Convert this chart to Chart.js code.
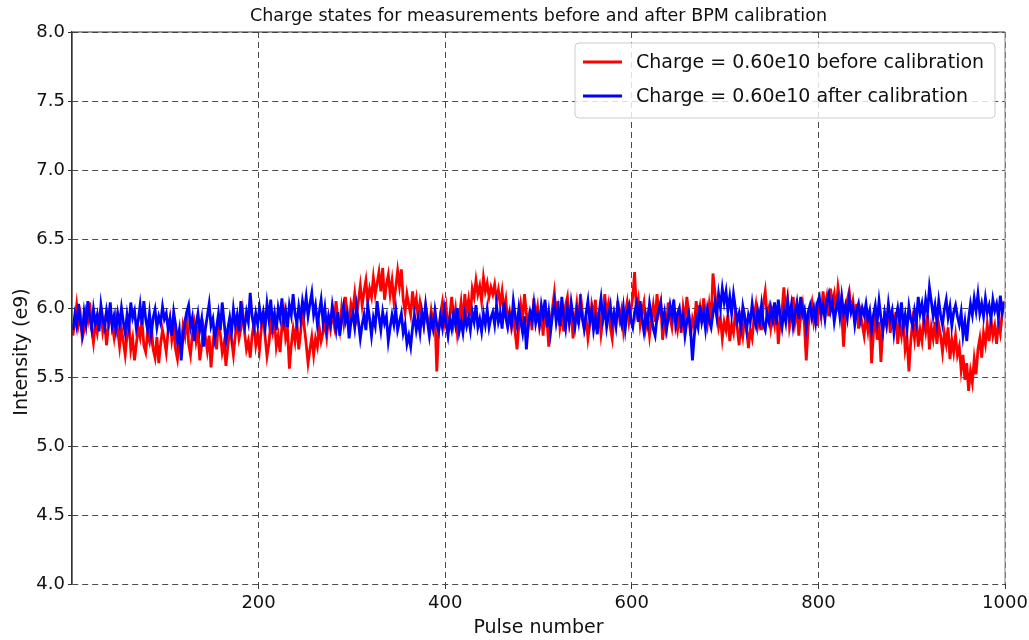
<!DOCTYPE html>
<html>
<head>
<meta charset="utf-8">
<title>Charge states before and after BPM calibration</title>
<script src="https://cdn.jsdelivr.net/npm/chart.js@4.4.1/dist/chart.umd.min.js"></script>
<style>
  html, body { margin: 0; padding: 0; background: #ffffff; }
  #wrap { width: 1029px; height: 640px; }
</style>
</head>
<body>
<div id="wrap"><canvas id="chart" width="1029" height="640"></canvas></div>
<script>
// Chart text
const chartTitle = 'Charge states for measurements before and after BPM calibration';
const xAxisTitle = 'Pulse number';
const yAxisTitle = 'Intensity (e9)';
const seriesLabels = ['Charge = 0.60e10 before calibration', 'Charge = 0.60e10 after calibration'];

// Axis ticks
const xTicks = [200, 400, 600, 800, 1000];
const yTicks = [4.0, 4.5, 5.0, 5.5, 6.0, 6.5, 7.0, 7.5, 8.0];

// Measured intensity (e9), one value every second pulse (1, 3, 5, ... 999)
const intensityBefore = [
  5.80, 5.90, 6.02, 5.88, 5.95, 5.78, 5.84, 5.97, 5.91, 6.04, 5.86, 5.75, 5.89, 5.82, 5.94, 5.99, 5.83, 5.90, 5.73, 5.86, 5.96, 5.88, 5.79, 5.93, 5.84,
  5.72, 5.85, 5.76, 5.66, 5.80, 5.89, 5.70, 5.78, 5.62, 5.74, 5.86, 5.79, 5.91, 5.73, 5.68, 5.82, 5.76, 5.88, 5.70, 5.64, 5.79, 5.60, 5.74, 5.84, 5.77,
  5.68, 5.83, 5.92, 5.77, 5.86, 5.70, 5.63, 5.78, 5.72, 5.87, 5.80, 5.95, 5.74, 5.66, 5.81, 5.89, 5.76, 5.84, 5.62, 5.73, 5.86, 5.79, 5.69, 5.80, 5.57,
  5.74, 5.86, 5.70, 5.92, 5.81, 5.68, 5.75, 5.58, 5.72, 5.84, 5.77, 5.66, 5.80, 5.90, 5.78, 5.85, 5.97, 5.82, 5.70, 5.76, 5.64, 5.80, 5.89, 5.73, 5.81,
  5.70, 5.86, 5.94, 5.79, 5.65, 5.74, 5.88, 5.82, 5.91, 5.72, 5.80, 5.68, 5.87, 5.96, 5.78, 5.84, 5.56, 5.73, 5.85, 5.76, 5.90, 5.70, 5.82, 6.00, 5.86,
  5.74, 5.60, 5.70, 5.79, 5.66, 5.78, 5.72, 5.86, 5.76, 5.82, 5.90, 5.79, 5.93, 5.85, 5.97, 5.88, 6.05, 5.92, 5.84, 6.00, 5.90, 6.08, 5.95, 5.87, 6.03,
  5.98, 6.10, 5.95, 6.05, 6.16, 6.02, 6.12, 6.20, 6.04, 6.14, 6.08, 6.22, 6.10, 6.18, 6.26, 6.12, 6.29, 6.06, 6.17, 6.24, 6.10, 6.20, 6.05, 6.15, 6.27,
  6.16, 6.28, 6.06, 5.97, 6.10, 6.02, 5.95, 6.12, 6.00, 6.07, 5.92, 6.04, 5.96, 5.88, 6.01, 5.93, 5.86, 5.98, 5.89, 5.95, 5.54, 5.84, 5.96, 6.04, 5.90,
  6.00, 5.84, 5.95, 6.08, 5.90, 5.99, 5.82, 5.93, 6.04, 5.88, 6.10, 5.97, 6.06, 5.94, 6.14, 6.08, 6.20, 6.10, 6.16, 6.05, 6.22, 6.12, 6.18, 6.08, 6.15,
  6.10, 6.17, 6.06, 6.13, 6.02, 6.12, 5.98, 6.06, 5.90, 5.97, 5.86, 5.94, 5.82, 5.70, 5.88, 6.02, 5.92, 6.10, 5.96, 5.86, 5.99, 5.84, 6.07, 5.93, 6.01,
  5.87, 5.96, 5.80, 6.04, 5.92, 5.72, 5.89, 6.00, 6.11, 5.94, 6.05, 5.86, 5.95, 5.83, 6.02, 6.08, 5.90, 5.98, 5.78, 5.92, 6.03, 5.88, 6.10, 5.97, 5.85,
  5.93, 5.78, 5.88, 6.02, 5.94, 6.06, 5.84, 5.97, 5.81, 5.92, 6.10, 5.96, 6.03, 5.86, 5.78, 5.95, 5.88, 6.05, 5.92, 5.99, 5.84, 5.96, 6.04, 5.90, 5.98,
  6.08, 6.26, 5.98, 6.06, 5.88, 5.97, 6.04, 5.86, 5.94, 5.80, 5.92, 6.02, 5.90, 6.10, 5.97, 6.04, 5.77, 5.90, 5.84, 6.04, 5.93, 5.86, 6.00, 5.92, 5.84,
  5.95, 5.82, 6.00, 5.90, 6.08, 5.96, 5.80, 5.92, 5.86, 6.05, 5.94, 6.01, 5.89, 6.07, 5.96, 5.88, 6.02, 5.90, 6.25, 6.12, 5.98, 5.86, 5.93, 5.78, 5.90,
  5.84, 5.95, 5.76, 5.88, 5.82, 5.97, 5.86, 5.73, 5.90, 5.80, 5.94, 5.86, 5.71, 5.84, 5.78, 5.93, 6.02, 5.87, 5.95, 5.84, 6.03, 6.12, 5.94, 6.00, 5.86,
  5.96, 5.88, 6.02, 5.74, 5.90, 5.98, 6.15, 5.96, 6.06, 5.86, 5.94, 6.08, 5.90, 5.99, 5.80, 5.96, 6.03, 5.88, 5.62, 5.86, 5.97, 6.04, 5.90, 5.98, 5.87,
  6.06, 5.95, 6.12, 6.00, 6.08, 5.94, 6.14, 6.03, 6.10, 5.97, 6.15, 6.05, 5.96, 5.72, 5.95, 6.06, 6.12, 5.98, 6.05, 5.92, 6.03, 5.85, 5.96, 5.88, 5.80,
  5.94, 5.84, 5.98, 5.60, 5.82, 5.93, 5.77, 5.90, 5.61, 5.84, 5.96, 5.88, 6.00, 5.82, 5.94, 5.86, 5.97, 5.74, 5.88, 5.80, 5.93, 5.70, 5.78, 5.54, 5.76,
  5.90, 5.78, 5.93, 5.72, 5.84, 5.76, 5.92, 5.83, 5.95, 5.70, 5.86, 5.78, 5.90, 5.74, 5.88, 5.80, 5.68, 5.82, 5.74, 5.86, 5.63, 5.77, 5.68, 5.80, 5.66,
  5.72, 5.55, 5.66, 5.48, 5.60, 5.40, 5.54, 5.46, 5.63, 5.52, 5.70, 5.78, 5.64, 5.82, 5.74, 5.88, 5.76, 5.92, 5.80, 5.87, 5.74, 5.90, 5.82, 5.96, 6.05
];

const intensityAfter = [
  5.84, 5.95, 5.87, 6.03, 5.90, 5.82, 5.97, 5.88, 6.05, 5.93, 5.85, 5.99, 5.89, 5.95, 5.83, 6.02, 5.92, 5.86, 5.98, 5.90, 6.04, 5.87, 5.94, 5.84, 5.96,
  5.88, 6.00, 5.90, 5.82, 5.95, 5.86, 6.04, 5.93, 5.98, 5.85, 5.91, 6.02, 5.88, 6.05, 5.92, 5.84, 5.96, 5.81, 5.93, 5.99, 5.86, 5.94, 5.89, 6.01, 5.92,
  5.96, 5.85, 5.92, 5.80, 5.97, 5.88, 5.76, 5.84, 5.62, 5.80, 5.90, 5.97, 6.02, 5.86, 5.93, 5.76, 5.88, 5.96, 5.84, 5.92, 5.72, 5.85, 5.94, 6.03, 5.87,
  5.92, 5.78, 5.86, 5.96, 5.84, 6.04, 5.90, 5.76, 5.85, 5.93, 5.82, 5.99, 5.88, 5.95, 5.83, 6.05, 5.92, 5.86, 5.97, 5.90, 6.11, 5.94, 5.86, 5.96, 5.88,
  6.00, 5.90, 5.97, 5.86, 6.03, 5.92, 6.06, 5.88, 5.96, 5.84, 6.00, 5.93, 6.07, 5.90, 5.98, 5.86, 6.02, 5.95, 6.10, 5.96, 5.89, 6.01, 5.92, 6.05, 5.97,
  6.08, 5.94, 6.03, 6.11, 5.95, 6.02, 5.88, 5.97, 6.06, 5.90, 6.00, 5.85, 5.94, 5.88, 6.02, 5.93, 5.84, 5.97, 5.80, 5.92, 6.01, 5.90, 5.96, 5.78, 5.90,
  5.96, 5.86, 6.01, 5.90, 5.78, 5.88, 5.95, 5.84, 6.02, 5.92, 5.80, 5.93, 5.87, 6.05, 5.94, 5.84, 5.97, 5.89, 5.94, 5.76, 5.86, 5.95, 5.88, 5.99, 5.84,
  5.90, 5.96, 5.82, 5.88, 5.74, 5.80, 5.72, 5.86, 5.95, 5.84, 5.92, 5.82, 5.97, 5.88, 6.02, 5.90, 5.80, 5.92, 5.85, 5.98, 5.88, 5.83, 5.94, 5.86, 5.99,
  5.88, 5.80, 5.92, 5.85, 5.96, 5.88, 6.00, 5.83, 5.90, 5.82, 5.95, 5.87, 5.93, 5.84, 5.97, 5.90, 6.02, 5.86, 5.92, 5.83, 5.96, 5.88, 5.99, 5.86, 5.93,
  5.97, 5.88, 6.02, 5.90, 5.96, 5.85, 6.04, 5.93, 5.86, 5.95, 5.88, 6.05, 5.94, 5.87, 6.00, 5.90, 5.82, 5.94, 5.70, 5.88, 5.97, 5.91, 6.03, 5.89, 5.96,
  5.88, 6.02, 5.94, 6.06, 5.86, 5.97, 5.83, 5.95, 6.04, 5.90, 5.99, 5.87, 6.08, 5.93, 5.85, 6.00, 5.90, 6.04, 5.94, 5.86, 5.98, 5.90, 6.03, 5.92, 5.85,
  5.96, 6.05, 5.90, 5.98, 5.84, 5.93, 5.81, 5.97, 6.07, 5.92, 6.00, 5.86, 5.95, 6.02, 5.89, 5.96, 5.87, 6.03, 5.94, 5.88, 6.00, 5.85, 5.97, 6.02, 5.91,
  5.86, 5.97, 6.03, 5.90, 6.05, 5.92, 5.83, 5.95, 5.88, 6.03, 5.94, 5.85, 5.80, 5.93, 5.99, 6.04, 5.90, 5.97, 5.84, 5.92, 6.02, 5.94, 6.06, 5.88, 5.96,
  6.00, 5.88, 5.95, 5.80, 5.90, 5.96, 5.84, 5.62, 5.80, 5.92, 5.86, 6.02, 5.90, 5.97, 5.85, 5.99, 5.91, 5.86, 5.96, 6.04, 5.94, 6.10, 6.00, 6.14, 6.04,
  6.12, 5.98, 6.08, 5.96, 6.10, 6.00, 5.90, 5.96, 5.86, 6.01, 5.93, 5.84, 5.95, 5.90, 6.03, 5.92, 5.87, 5.98, 5.90, 6.02, 5.88, 5.84, 5.96, 5.90, 6.00,
  5.92, 6.04, 5.88, 6.06, 5.95, 5.86, 5.98, 5.90, 6.05, 5.93, 6.02, 5.87, 5.96, 6.04, 5.92, 6.08, 5.95, 5.99, 5.86, 5.97, 6.02, 5.93, 6.00, 5.90, 6.04,
  6.08, 5.96, 6.02, 5.92, 6.05, 6.10, 5.98, 6.04, 5.90, 5.99, 6.06, 5.94, 6.08, 5.96, 6.02, 5.93, 6.07, 5.97, 6.01, 5.88, 5.98, 6.03, 5.92, 6.00, 5.95,
  6.03, 5.92, 5.98, 5.84, 5.95, 6.02, 5.90, 6.05, 5.93, 5.83, 5.96, 5.88, 6.03, 5.92, 5.98, 5.82, 5.93, 6.00, 5.90, 6.04, 5.87, 5.95, 5.85, 6.01, 5.92,
  5.87, 5.98, 5.90, 6.08, 5.96, 6.03, 5.92, 6.06, 5.97, 6.15, 6.05, 5.94, 6.02, 5.90, 6.05, 5.95, 5.88, 5.99, 6.06, 5.93, 6.01, 5.87, 5.97, 6.02, 5.94,
  5.88, 5.97, 5.80, 5.90, 5.76, 5.92, 6.03, 5.95, 6.07, 5.98, 6.10, 5.96, 6.03, 5.94, 6.07, 5.97, 6.02, 5.92, 6.06, 5.98, 6.03, 5.93, 6.09, 5.97, 6.04
];

// Pulse number of each sample: 1, 3, 5, ... 999
const pulseNumbers = intensityBefore.map((_, i) => 1 + 2 * i);

const FONT = "'DejaVu Sans', 'Liberation Sans', sans-serif";

// Frame, titles and legend box drawn on top of the library's grid
const decorations = {
  id: 'decorations',
  afterDatasetsDraw(chart) {
    const { ctx, chartArea: a } = chart;
    ctx.save();
    // top and left spines dark, right spine grey
    ctx.lineWidth = 1.2;
    ctx.strokeStyle = '#333333';
    ctx.beginPath();
    ctx.moveTo(a.left, a.bottom);
    ctx.lineTo(a.left, a.top);
    ctx.lineTo(a.right, a.top);
    ctx.stroke();
    ctx.strokeStyle = '#9a9a9a';
    ctx.beginPath();
    ctx.moveTo(a.right, a.top);
    ctx.lineTo(a.right, a.bottom);
    ctx.stroke();

    // chart title centred over the plot
    ctx.fillStyle = '#111111';
    ctx.font = '17.5px ' + FONT;
    ctx.textAlign = 'center';
    ctx.textBaseline = 'middle';
    ctx.fillText(chartTitle, (a.left + a.right) / 2, 16);

    // y-axis title
    ctx.save();
    ctx.translate(22, 352);
    ctx.rotate(-Math.PI / 2);
    ctx.font = '19px ' + FONT;
    ctx.fillText(yAxisTitle, 0, 0);
    ctx.restore();

    // legend box in the upper right corner
    const bx = 575, by = 43, bw = 420, bh = 75, r = 4;
    ctx.fillStyle = 'rgba(255,255,255,0.82)';
    ctx.strokeStyle = '#cccccc';
    ctx.lineWidth = 1;
    ctx.beginPath();
    ctx.roundRect(bx, by, bw, bh, r);
    ctx.fill();
    ctx.stroke();
    ctx.font = '19px ' + FONT;
    ctx.textAlign = 'left';
    chart.data.datasets.forEach((ds, i) => {
      const yy = 62 + i * 34;
      ctx.strokeStyle = ds.borderColor;
      ctx.lineWidth = 3;
      ctx.beginPath();
      ctx.moveTo(583, yy);
      ctx.lineTo(622, yy);
      ctx.stroke();
      ctx.fillStyle = '#111111';
      ctx.fillText(ds.label, 636, yy + 1);
    });
    ctx.restore();
  }
};

const gridColor = '#4a4a4a';

new Chart(document.getElementById('chart'), {
  type: 'line',
  data: {
    datasets: [
      {
        label: seriesLabels[0],
        data: pulseNumbers.map((p, i) => ({ x: p, y: intensityBefore[i] })),
        borderColor: '#ff0000',
        borderWidth: 2.8,
        pointRadius: 0,
        tension: 0,
        order: 2
      },
      {
        label: seriesLabels[1],
        data: pulseNumbers.map((p, i) => ({ x: p, y: intensityAfter[i] })),
        borderColor: '#0000ff',
        borderWidth: 2.8,
        pointRadius: 0,
        tension: 0,
        order: 1
      }
    ]
  },
  options: {
    responsive: false,
    animation: false,
    events: [],
    layout: { padding: { left: 0, right: 24, top: 32, bottom: 0 } },
    plugins: {
      legend: { display: false },
      title: { display: false },
      tooltip: { enabled: false }
    },
    scales: {
      x: {
        type: 'linear',
        min: 0,
        max: 1000,
        afterBuildTicks(scale) { scale.ticks = xTicks.map(v => ({ value: v })); },
        afterFit(scale) {
          scale.height = 56;
          scale.paddingLeft = 0;
          scale.paddingRight = 0;
        },
        ticks: {
          color: '#111111',
          font: { family: FONT, size: 18 },
          padding: 4,
          maxRotation: 0,
          autoSkip: false,
          callback: v => String(v)
        },
        grid: { color: gridColor, lineWidth: 1, drawTicks: true, tickLength: 5, tickColor: '#333333' },
        border: { display: false, dash: [6, 4] },
        title: {
          display: true,
          text: xAxisTitle,
          color: '#111111',
          font: { family: FONT, size: 19 },
          padding: { top: 0, bottom: 1 }
        }
      },
      y: {
        type: 'linear',
        min: 4,
        max: 8,
        afterBuildTicks(scale) { scale.ticks = yTicks.map(v => ({ value: v })); },
        afterFit(scale) { scale.width = 72; },
        ticks: {
          color: '#111111',
          font: { family: FONT, size: 18 },
          padding: 3,
          callback: v => Number(v).toFixed(1)
        },
        grid: { color: gridColor, lineWidth: 1, drawTicks: true, tickLength: 4, tickColor: '#333333' },
        border: { display: true, color: '#333333', width: 1.2, dash: [6, 4] }
      }
    }
  },
  plugins: [decorations]
});
</script>
</body>
</html>
